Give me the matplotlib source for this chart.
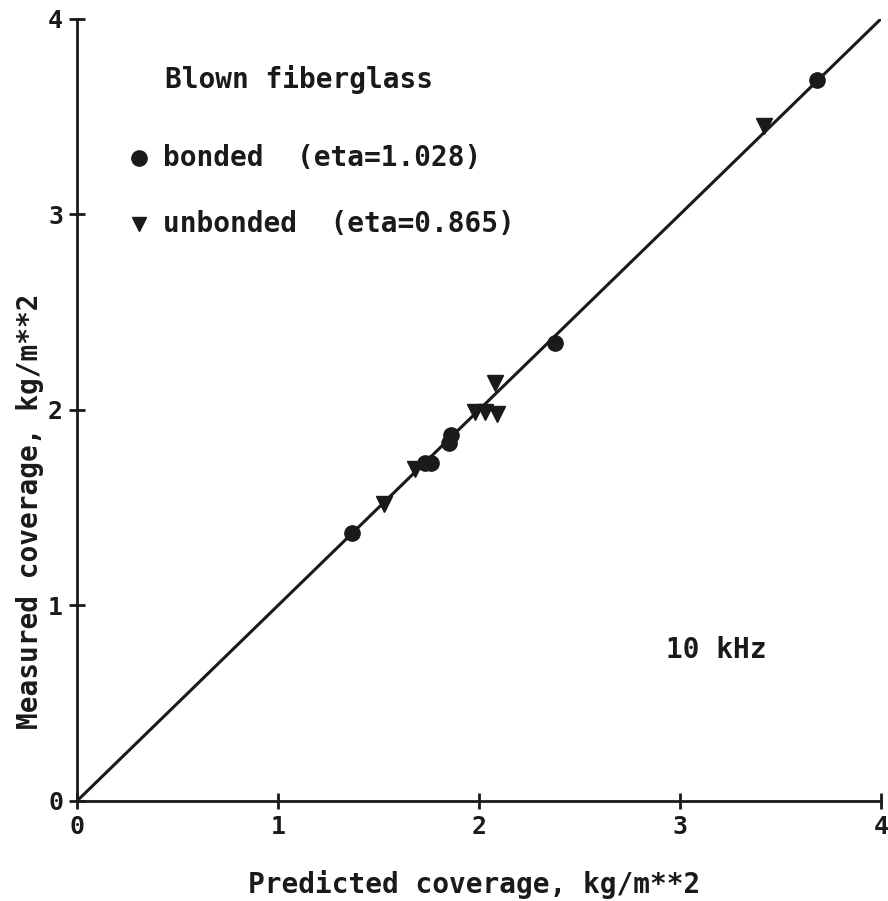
import matplotlib
matplotlib.use("Agg")
import matplotlib.pyplot as plt

# bonded samples (circles)
bonded_pred = [1.37, 1.73, 1.76, 1.85, 1.86, 2.38, 3.68]
bonded_meas = [1.37, 1.73, 1.73, 1.83, 1.87, 2.34, 3.69]

# unbonded samples (triangles)
unbonded_pred = [1.53, 1.68, 1.98, 2.03, 2.09, 2.08, 3.42]
unbonded_meas = [1.52, 1.70, 1.99, 1.99, 1.98, 2.14, 3.45]

fit_x = [0, 4]
fit_y = [0, 4]

ticks = [0, 1, 2, 3, 4]

plt.rcParams['font.family'] = ['DejaVu Sans Mono']
plt.rcParams['font.weight'] = 'bold'
plt.rcParams['axes.labelweight'] = 'bold'
ink = '#1a1a1a'

fig = plt.figure(figsize=(8.88, 9.01), dpi=100)
ax = fig.add_axes([0.0867, 0.111, 0.9053, 0.868])

ax.plot(fit_x, fit_y, color=ink, lw=2.2, zorder=2)
ax.plot(bonded_pred, bonded_meas, 'o', color=ink, ms=11, zorder=3)
ax.plot(unbonded_pred, unbonded_meas, 'v', color=ink, ms=12, zorder=3)

ax.set_xlim(0, 4)
ax.set_ylim(0, 4)
ax.set_xticks(ticks)
ax.set_yticks(ticks)
ax.spines['top'].set_visible(False)
ax.spines['right'].set_visible(False)
for s in ('left', 'bottom'):
    ax.spines[s].set_linewidth(2)
    ax.spines[s].set_color(ink)
ax.tick_params(direction='inout', length=12, width=2, labelsize=18,
               colors=ink, pad=4)

ax.set_xlabel('Predicted coverage, kg/m**2', fontsize=20, color=ink)
ax.set_ylabel('Measured coverage, kg/m**2', fontsize=20, color=ink)
ax.xaxis.set_label_coords(0.494, -0.107)
ax.yaxis.set_label_coords(-0.058, 0.37)
ax.xaxis.label.set_va('center')
ax.yaxis.label.set_va('center')

txt = dict(fontsize=20, va='center', color=ink)
ax.text(0.44, 3.69, 'Blown fiberglass', **txt)
ax.plot([0.31], [3.29], 'o', color=ink, ms=11, clip_on=False)
ax.text(0.43, 3.29, 'bonded  (eta=1.028)', **txt)
ax.plot([0.31], [2.95], 'v', color=ink, ms=10, clip_on=False)
ax.text(0.43, 2.95, 'unbonded  (eta=0.865)', **txt)
ax.text(2.93, 0.77, '10 kHz', **txt)

fig.savefig('out.png', dpi=100)
